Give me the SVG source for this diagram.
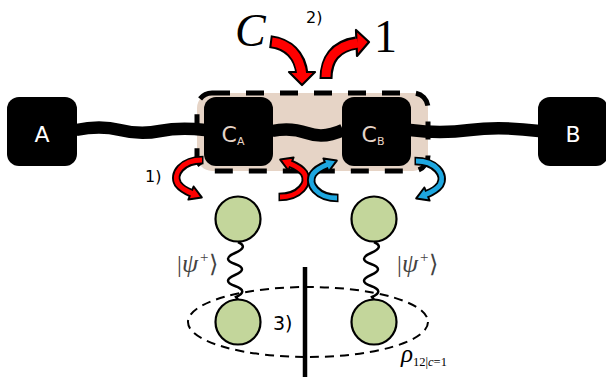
<svg xmlns="http://www.w3.org/2000/svg" width="606" height="377" viewBox="0 0 606 377">
<style>
.node{fill:#000}
.nlab{font-family:"DejaVu Sans",sans-serif;font-size:22px;text-anchor:middle}
.wht{fill:#fff}
.bge{fill:#e6d4c6}
.sub{font-size:11px}
.num{font-family:"DejaVu Sans",sans-serif;fill:#000}
.thick{fill:none;stroke:#000;stroke-width:12.5;stroke-linecap:butt}
.thin{fill:none;stroke:#000;stroke-width:2.5}
.qubit{fill:#c3d69b;stroke:#000;stroke-width:2.2}
.psi{font-family:"Liberation Serif","DejaVu Serif",serif;font-size:24px;fill:#444}
.serif{font-family:"Liberation Serif","DejaVu Serif",serif;fill:#000}
.abody{fill:none;stroke:#000;stroke-width:8.5}
.ainner{fill:none;stroke:currentColor;stroke-width:4.8}
.ahead{fill:currentColor;stroke:#000;stroke-width:2;stroke-linejoin:round}
.bbody{fill:none;stroke:#000;stroke-width:13}
.binner{fill:none;stroke:#f00;stroke-width:9}
.bhead{fill:#f00;stroke:#000;stroke-width:2.2;stroke-linejoin:round}
</style>
<defs>
<g id="carrow">
<path class="abody" d="M13.5,-18 C-8,-18 -18,-4 -12,6 C-9,10 -4,13 1,15"/>
<polygon class="ahead" points="3.6,8.5 11.8,19.4 -1.6,21.5"/>
<path class="ainner" d="M12,-18 C-8,-18 -18,-4 -12,6 C-9,10 -4,13 3,15.8"/>
</g>
</defs>
<rect id="cluster" x="197" y="93" width="231" height="78" rx="15" fill="#e6d4c6" stroke="#000" stroke-width="5" stroke-dasharray="18 16"/>
<g id="connectors">
<path class="thick" d="M76,130 Q100,125 120,130 T160,131 T205,130"/>
<path class="thick" d="M272,131 Q290,127 307,133 T343,130"/>
<path class="thick" d="M410,130 Q440,134 470,130 T539,131"/>
<path class="thin" d="M238,242 Q249,247 235,253 T235,264 T235,275 T235,286 T236,297 L238,300"/>
<path class="thin" d="M374,242 Q385,247 371,253 T371,264 T371,275 T371,286 T372,297 L374,300"/>
</g>
<g id="node-A"><rect class="node" x="7" y="97" width="70" height="69" rx="12"/><text class="nlab wht" x="42" y="142">A</text></g>
<g id="node-CA"><rect class="node" x="204" y="97" width="69" height="69" rx="12"/><text class="nlab bge" x="233" y="142">C<tspan class="sub" dy="3">A</tspan></text></g>
<g id="node-CB"><rect class="node" x="342" y="97" width="69" height="69" rx="12"/><text class="nlab bge" x="373" y="142">C<tspan class="sub" dy="3">B</tspan></text></g>
<g id="node-B"><rect class="node" x="538" y="97" width="70" height="69" rx="12"/><text class="nlab wht" x="573" y="142">B</text></g>
<ellipse id="region" cx="308" cy="322" rx="120" ry="35" fill="none" stroke="#000" stroke-width="2" stroke-dasharray="9 6"/>
<line id="cut" x1="305" y1="267" x2="305" y2="377" stroke="#000" stroke-width="4.5"/>
<g id="q1"><circle class="qubit" cx="238" cy="219" r="22.5"/></g>
<g id="q2"><circle class="qubit" cx="374" cy="219" r="22.5"/></g>
<g id="q3"><circle class="qubit" cx="238" cy="322" r="22.5"/></g>
<g id="q4"><circle class="qubit" cx="374" cy="322" r="22.5"/></g>
<g id="swap-arrows">
<use href="#carrow" transform="translate(190,178)" color="#f00"/>
<use href="#carrow" transform="translate(292,179) rotate(180)" color="#f00"/>
<use href="#carrow" transform="translate(325,180) scale(1,-1)" color="#1ea7e0"/>
<use href="#carrow" transform="translate(428,179) scale(-1,1)" color="#1ea7e0"/>
</g>
<g id="measure-arrows">
<path class="bbody" d="M270,41.6 C288,44 300,55 302,74"/>
<polygon class="bhead" points="289,72 315,72 302,85"/>
<path class="binner" d="M272,42 C288,44 300,55 302,76"/>
<path class="bbody" d="M326,79 C326,60 335,46 356,43"/>
<polygon class="bhead" points="356,30 357,56 369,42"/>
<path class="binner" d="M326,77 C326,60 335,46 358,43"/>
</g>
<g id="labels">
<text class="serif" x="235" y="46" font-size="46" font-style="italic">C</text>
<text class="serif" x="374" y="52" font-size="46">1</text>
<text class="num" x="306" y="23" font-size="16">2)</text>
<text class="num" x="145" y="182" font-size="16">1)</text>
<text class="num" x="273" y="330" font-size="19">3)</text>
<text class="psi" y="272"><tspan x="177">|</tspan><tspan x="182" font-style="italic" font-size="26">ψ</tspan><tspan x="200" dy="-10" font-size="15">+</tspan><tspan x="209" dy="10">⟩</tspan></text>
<text class="psi" y="272"><tspan x="397">|</tspan><tspan x="402" font-style="italic" font-size="26">ψ</tspan><tspan x="420" dy="-10" font-size="15">+</tspan><tspan x="429" dy="10">⟩</tspan></text>
<text class="serif" x="401" y="362" font-size="25" font-style="italic">ρ<tspan font-size="12.5" font-style="normal" dy="4">12|<tspan font-style="italic">c</tspan>=1</tspan></text>
</g>
</svg>
